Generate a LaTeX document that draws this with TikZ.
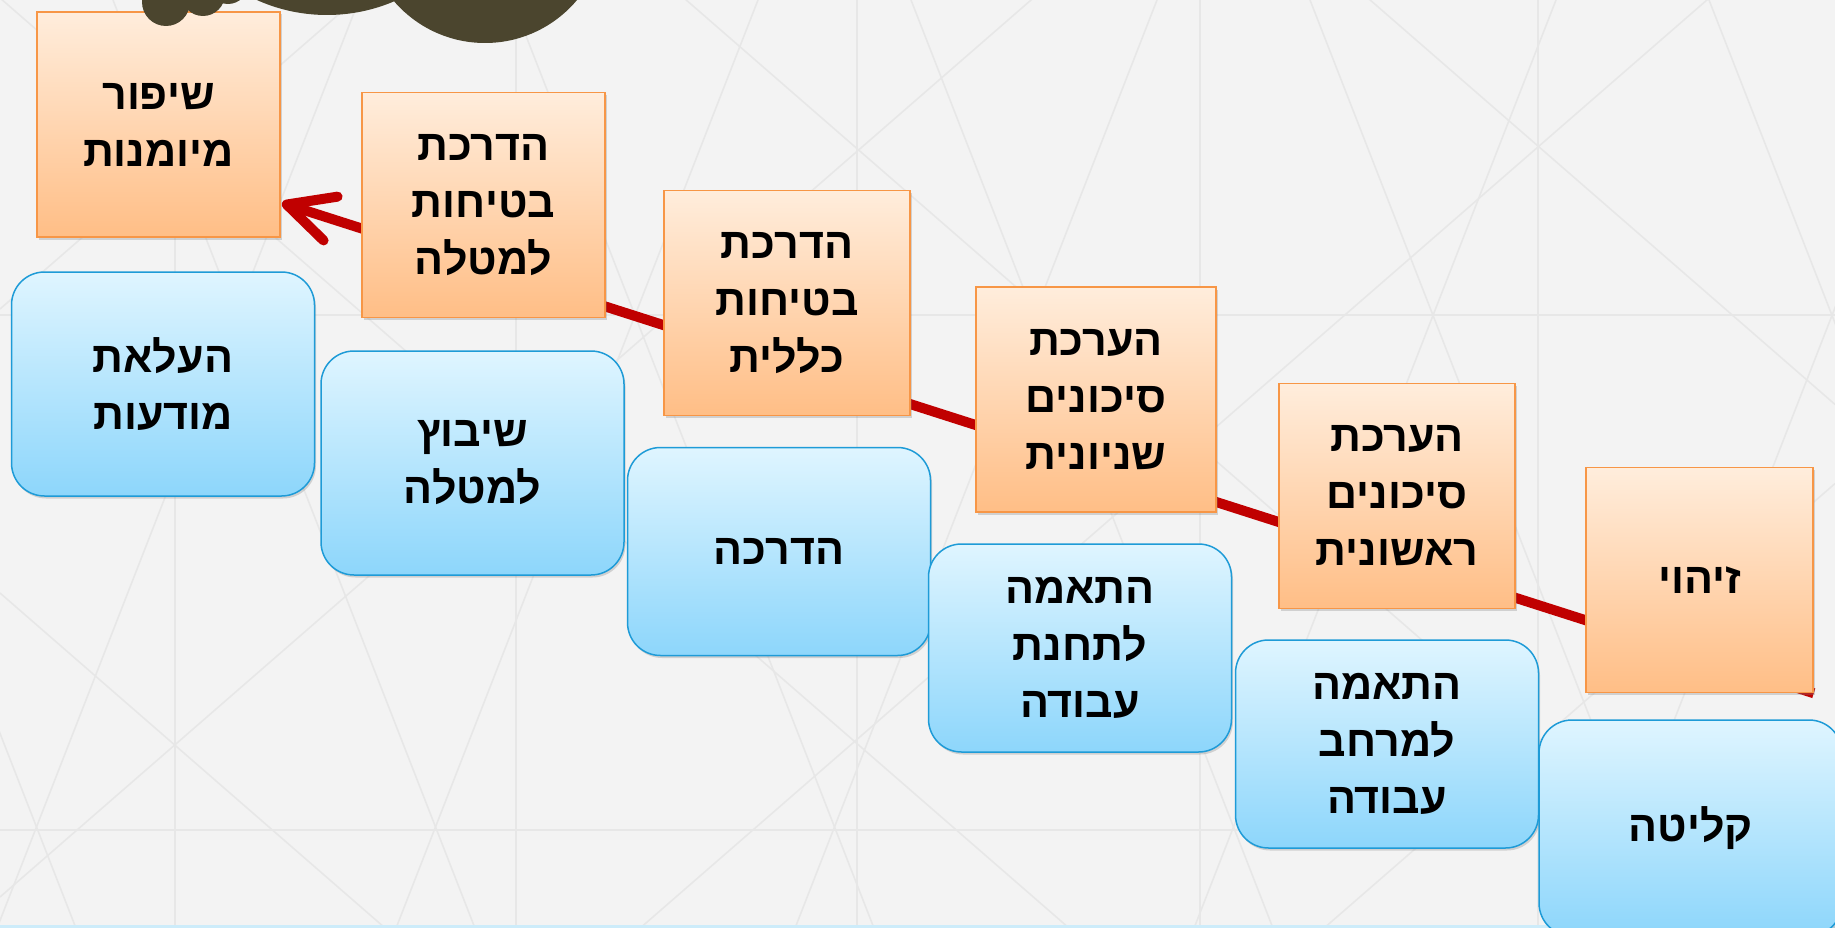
\documentclass[tikz,border=0pt]{standalone}
\usepackage{fontspec}
\usepackage{xcolor}
\usepackage{tikz}
\usetikzlibrary{arrows.meta,shadows}
\TeXXeTstate=1
\newfontfamily\hebfont[Script=Hebrew]{Liberation Sans}
\newcommand{\hebline}[1]{\beginR #1\endR}
\definecolor{bggray}{RGB}{243,243,243}
\definecolor{gridgray}{RGB}{231,231,231}
\definecolor{orangetop}{RGB}{255,237,220}
\definecolor{orangebot}{RGB}{255,190,134}
\definecolor{orangeline}{RGB}{247,150,70}
\definecolor{bluetop}{RGB}{223,245,255}
\definecolor{bluebot}{RGB}{141,214,251}
\definecolor{blueline}{RGB}{30,155,215}
\definecolor{pathred}{RGB}{192,0,0}
\definecolor{blobolive}{RGB}{75,69,46}
\definecolor{stripblue}{RGB}{205,236,250}
\pgfdeclarelayer{back}
\pgfdeclarelayer{wire}
\pgfsetlayers{back,wire,main}

\begin{document}
\begin{tikzpicture}[x=1pt,y=-1pt]
	\tikzstyle{action} = [draw=orangeline, line width=1.5pt, top color=orangetop, bottom color=orangebot, minimum width=243pt, minimum height=225pt, inner sep=0pt, align=center, font=\hebfont\bfseries\fontsize{43}{57}\selectfont, drop shadow={shadow xshift=1.5pt, shadow yshift=-2.5pt, opacity=0.3}]
	\tikzstyle{phase} = [action, draw=blueline, top color=bluetop, bottom color=bluebot, rounded corners=33pt, minimum width=303pt, minimum height=208pt]
	\tikzstyle{grid} = [draw=gridgray, line width=1.6pt]
	\tikzset{edge/.style = {draw=pathred, line width=10pt, -{Straight Barb[length=46pt, width=46pt, round]}}}
	
	\useasboundingbox (0,0) rectangle (1835,928);
	
	\begin{pgfonlayer}{back}
	\fill[bggray] (0,0) rectangle (1835,928);
	\foreach \vx in {175,516,857,1200,1538} \draw[grid] (\vx,0) -- (\vx,928);
	\foreach \hy in {315,830} \draw[grid] (0,\hy) -- (1835,\hy);
	\foreach \c in {-286,113,512,911,1310,1709} \draw[grid] (\c,0) -- ({\c+0.39*928},928);
	\foreach \c in {359,758,1157,1556,1955} \draw[grid] (\c,0) -- ({\c-0.39*928},928);
	\foreach \b in {593,-2,-597,-1192} \draw[grid] (0,\b) -- (1835,{\b+0.87*1835});
	\foreach \b in {309,897,1485,2080} \draw[grid] (0,\b) -- (1835,{\b-0.87*1835});
	\fill[stripblue] (0,925) rectangle (1835,928);
	\end{pgfonlayer}
	
	\node[action](action1) at (158.5,124.5) {\hebline{שיפור}\\\hebline{מיומנות}};
	\node[action](action2) at (483.5,205) {\hebline{הדרכת}\\\hebline{בטיחות}\\\hebline{למטלה}};
	\node[action, minimum width=246pt](action3) at (787,303) {\hebline{הדרכת}\\\hebline{בטיחות}\\\hebline{כללית}};
	\node[action, minimum width=240pt](action4) at (1096,399.5) {\hebline{הערכת}\\\hebline{סיכונים}\\\hebline{שניונית}};
	\node[action, minimum width=236pt](action5) at (1397,496) {\hebline{הערכת}\\\hebline{סיכונים}\\\hebline{ראשונית}};
	\node[action, minimum width=227pt](action6) at (1699.5,580) {\hebline{זיהוי}};
	
	\node[phase, minimum height=224pt](phase1) at (163,384) {\hebline{העלאת}\\\hebline{מודעות}};
	\node[phase, minimum height=224pt](phase2) at (472.5,463) {\hebline{שיבוץ}\\\hebline{למטלה}};
	\node[phase](phase3) at (779,551.5) {\hebline{הדרכה}};
	\node[phase](phase4) at (1080,648) {\hebline{התאמה}\\\hebline{לתחנת}\\\hebline{עבודה}};
	\node[phase](phase5) at (1387,744) {\hebline{התאמה}\\\hebline{למרחב}\\\hebline{עבודה}};
	\node[phase, minimum height=216pt](phase6) at (1690.5,828) {\hebline{קליטה}};
	
	\coordinate (tip) at (282,203);
	\begin{pgfonlayer}{wire}
	\draw[edge] (action6.south east) -- (tip);
	\end{pgfonlayer}
	
	\fill[blobolive] (485,-77) circle[radius=120pt];
	\fill[blobolive] (327,-156) circle[radius=171pt];
	\fill[blobolive] (166,2) circle[radius=24pt];
	\fill[blobolive] (203,-6) circle[radius=22pt];
	\fill[blobolive] (228,-16) circle[radius=20pt];
\end{tikzpicture}
\end{document}
